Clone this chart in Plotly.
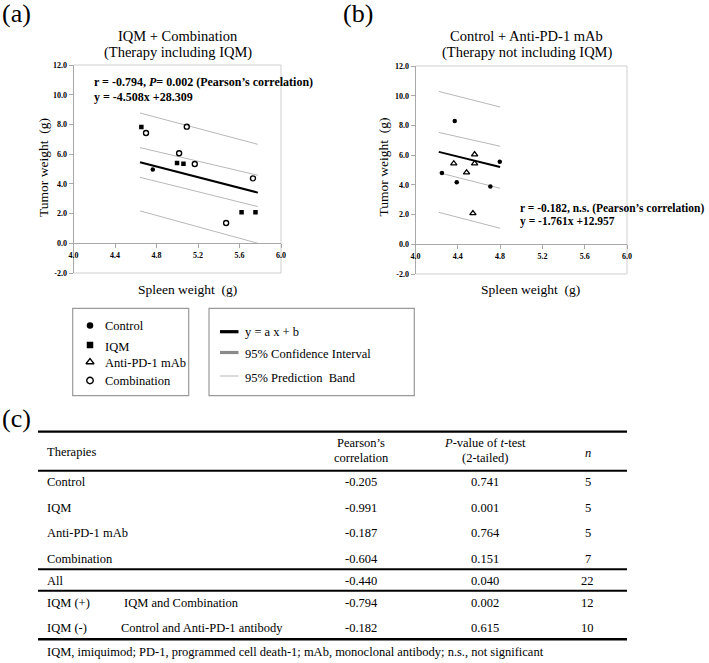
import plotly.graph_objects as go

W, H = 709, 663
SERIF = "Liberation Serif"

# ---------------- data: panel (a) IQM + Combination ----------------
iqm_x = [4.654, 4.998, 5.060, 5.620, 5.754]
iqm_y = [7.83, 5.41, 5.36, 2.09, 2.09]
comb_x = [4.699, 5.092, 5.018, 5.169, 5.730, 5.471]
comb_y = [7.42, 7.85, 6.06, 5.34, 4.37, 1.37]
comb_dot_x = [4.764]
comb_dot_y = [4.96]

fit_a_x = [4.641, 5.777]
fit_a_y = [5.45, 3.41]
ci_a_upper_y = [6.44, 4.58]
ci_a_lower_y = [4.44, 2.47]
pb_a_upper_y = [8.77, 6.66]
pb_a_lower_y = [2.18, 0.00]

# ---------------- data: panel (b) Control + Anti-PD-1 mAb ----------------
ctrl_x = [4.371, 4.250, 4.390, 4.797, 4.708]
ctrl_y = [8.29, 4.79, 4.18, 5.55, 3.89]
pd1_x = [4.362, 4.483, 4.559, 4.559, 4.543]
pd1_y = [5.44, 4.83, 6.05, 5.44, 2.09]

fit_b_x = [4.22, 4.80]
fit_b_y = [6.22, 5.20]
ci_b_upper_y = [7.53, 6.60]
ci_b_lower_y = [4.82, 3.77]
pb_b_upper_y = [10.29, 9.24]
pb_b_lower_y = [2.15, 1.08]

# ---------------- axis ticks ----------------
x_ticks = [4.0, 4.4, 4.8, 5.2, 5.6, 6.0]
y_ticks = [-2.0, 0.0, 2.0, 4.0, 6.0, 8.0, 10.0, 12.0]

# ---------------- table (c) ----------------
therapies = ["Control", "IQM", "Anti-PD-1 mAb", "Combination", "All", "IQM (+)", "IQM (-)"]
therapy_detail = ["", "", "", "", "", "IQM and Combination", "Control and Anti-PD-1 antibody"]
pearson = ["-0.205", "-0.991", "-0.187", "-0.604", "-0.440", "-0.794", "-0.182"]
p_values = ["0.741", "0.001", "0.764", "0.151", "0.040", "0.002", "0.615"]
n_values = ["5", "5", "5", "7", "22", "12", "10"]

legend_series = ["Control", "IQM", "Anti-PD-1 mAb", "Combination"]
legend_lines = ["y = a x + b", "95% Confidence Interval", "95% Prediction\u00a0 Band"]


def px(x):
    return x / W


def py(y):
    return 1 - y / H


BAND = dict(color="#b8b8b8", width=1)
FIT = dict(color="black", width=2)
AXIS_GRAY = "#a8a8a8"

M_FILLED_CIRCLE = dict(symbol="circle", size=4.5, color="black")
M_SQUARE = dict(symbol="square", size=4.5, color="black")
M_TRI = dict(symbol="triangle-up-open", size=5.5, color="black", line=dict(width=1.3, color="black"))
M_OPEN = dict(symbol="circle-open", size=5, color="black", line=dict(width=1.4, color="black"))

fig = go.Figure()


def add_lines(xs, ys_list, xa, ya):
    for ys, style in ys_list:
        fig.add_trace(go.Scatter(x=xs, y=ys, mode="lines", line=style, xaxis=xa, yaxis=ya,
                                 showlegend=False, hoverinfo="skip"))


add_lines(fit_a_x, [(pb_a_upper_y, BAND), (ci_a_upper_y, BAND), (ci_a_lower_y, BAND),
                    (pb_a_lower_y, BAND), (fit_a_y, FIT)], "x", "y")
add_lines(fit_b_x, [(pb_b_upper_y, BAND), (ci_b_upper_y, BAND), (ci_b_lower_y, BAND),
                    (pb_b_lower_y, BAND), (fit_b_y, FIT)], "x2", "y2")

fig.add_trace(go.Scatter(x=iqm_x, y=iqm_y, mode="markers", marker=M_SQUARE, name="IQM",
                         xaxis="x", yaxis="y", showlegend=False))
fig.add_trace(go.Scatter(x=comb_x, y=comb_y, mode="markers", marker=M_OPEN, name="Combination",
                         xaxis="x", yaxis="y", showlegend=False))
fig.add_trace(go.Scatter(x=comb_dot_x, y=comb_dot_y, mode="markers", marker=M_FILLED_CIRCLE,
                         name="Combination", xaxis="x", yaxis="y", showlegend=False))
fig.add_trace(go.Scatter(x=ctrl_x, y=ctrl_y, mode="markers", marker=M_FILLED_CIRCLE, name="Control",
                         xaxis="x2", yaxis="y2", showlegend=False))
fig.add_trace(go.Scatter(x=pd1_x, y=pd1_y, mode="markers", marker=M_TRI, name="Anti-PD-1 mAb",
                         xaxis="x2", yaxis="y2", showlegend=False))

# ---------------- legend keys (overlay pixel axis) ----------------
LEG1_KEY_X = 90
LEG1_ROWS = [325.5, 345.0, 362.0, 380.5]
leg_markers = [dict(M_FILLED_CIRCLE, size=6.5), dict(M_SQUARE, size=6.5),
               dict(M_TRI, size=7), dict(M_OPEN, size=6.5)]
for yy, mk in zip(LEG1_ROWS, leg_markers):
    fig.add_trace(go.Scatter(x=[LEG1_KEY_X], y=[yy], mode="markers", marker=mk,
                             xaxis="x3", yaxis="y3", showlegend=False, hoverinfo="skip"))

LEG2_KEY_X = [220, 238.5]
LEG2_ROWS = [331.7, 352.5, 376.0]
leg_line_styles = [dict(color="black", width=3.2), dict(color="#8a8a8a", width=3.2),
                   dict(color="#c4c4c4", width=1.2)]
for yy, st in zip(LEG2_ROWS, leg_line_styles):
    fig.add_trace(go.Scatter(x=LEG2_KEY_X, y=[yy, yy], mode="lines", line=st,
                             xaxis="x3", yaxis="y3", showlegend=False, hoverinfo="skip"))

# ---------------- axes ----------------
A_X = (73.5, 281.0)
A_Y = (65.0, 273.0)
B_X = (415.5, 627.0)
B_Y = (66.0, 274.0)


def xdom(p):
    return [px(p[0]), px(p[1])]


def ydom(p):
    return [py(p[1]), py(p[0])]


def zero_pos(p):
    d = ydom(p)
    return d[0] + (0 - (-2)) / 14 * (d[1] - d[0])


tickfont = dict(family=SERIF, size=8, color="black", weight="bold")
common_x = dict(range=[4, 6], tickvals=x_ticks, ticktext=[f"{v:.1f}" for v in x_ticks],
                showgrid=False, zeroline=False, showline=True, linecolor=AXIS_GRAY, linewidth=1,
                ticks="outside", ticklen=4, tickcolor=AXIS_GRAY, tickfont=tickfont, anchor="free",
                fixedrange=True, automargin=False)
common_y = dict(range=[-2, 12], tickvals=y_ticks, ticktext=[f"{v:.1f}" for v in y_ticks],
                showgrid=False, zeroline=False, showline=True, linecolor=AXIS_GRAY, linewidth=1,
                ticks="outside", ticklen=4, tickcolor=AXIS_GRAY, tickfont=tickfont, fixedrange=True,
                automargin=False)

fig.update_layout(
    template="none",
    width=W, height=H, margin=dict(l=0, r=0, t=0, b=0, pad=0, autoexpand=False),
    paper_bgcolor="white", plot_bgcolor="rgba(0,0,0,0)", showlegend=False,
    font=dict(family=SERIF, color="black"),
    xaxis=dict(common_x, domain=xdom(A_X), position=zero_pos(A_Y)),
    yaxis=dict(common_y, domain=ydom(A_Y), anchor="x"),
    xaxis2=dict(common_x, domain=xdom(B_X), position=zero_pos(B_Y)),
    yaxis2=dict(common_y, domain=ydom(B_Y), anchor="x2"),
    xaxis3=dict(domain=[0, 1], range=[0, W], visible=False, fixedrange=True, anchor="y3",
                automargin=False),
    yaxis3=dict(domain=[0, 1], range=[H, 0], visible=False, fixedrange=True, anchor="x3",
                automargin=False),
)

shapes = []
# plot area borders
for xr, yr in (("x domain", "y domain"), ("x2 domain", "y2 domain")):
    shapes.append(dict(type="rect", xref=xr, yref=yr, x0=0, x1=1, y0=0, y1=1,
                       line=dict(color="#cfcfcf", width=1), layer="below"))
# legend boxes
for (x0, x1) in ((72.7, 188.7), (209.0, 414.3)):
    shapes.append(dict(type="rect", xref="paper", yref="paper", x0=px(x0), x1=px(x1),
                       y0=py(395.7), y1=py(308.3), line=dict(color="#9a9a9a", width=1.2)))
# table rules
TABLE_X = (38.0, 627.0)
for yy, wdt in ((431.7, 2.2), (470.7, 2.0), (569.3, 2.0), (590.7, 2.0), (639.3, 2.4)):
    shapes.append(dict(type="line", xref="paper", yref="paper", x0=px(TABLE_X[0]), x1=px(TABLE_X[1]),
                       y0=py(yy), y1=py(yy), line=dict(color="black", width=wdt)))
fig.update_layout(shapes=shapes)

ann = []


def A(text, x, y, size, xanchor="left", angle=0):
    ann.append(dict(xref="paper", yref="paper", x=px(x), y=py(y), text=text, showarrow=False,
                    xanchor=xanchor, yanchor="middle", textangle=angle,
                    font=dict(family=SERIF, size=size, color="black")))


# panel labels
A("(a)", 0, 13, 26)
A("(b)", 341, 13, 26)
A("(c)", 0, 418, 26)

# titles
A("IQM + Combination", 178, 36, 14.5, "center")
A("(Therapy including IQM)", 178, 53, 14.5, "center")
A("Control + Anti-PD-1 mAb", 526, 36, 14.5, "center")
A("(Therapy not including IQM)", 527, 53, 14.5, "center")

# stats
A("<b>r = -0.794, <i>P</i>= 0.002 (Pearson\u2019s correlation)</b>", 92, 81.5, 12)
A("<b>y = -4.508x +28.309</b>", 92, 96.5, 12)
A("<b>r = -0.182, n.s. (Pearson\u2019s correlation)</b>", 517.5, 208, 11.5)
A("<b>y = -1.761x +12.957</b>", 517.5, 221.5, 11.5)

# axis titles
A("Tumor weight\u00a0 (g)", 43, 168, 13.5, "center", -90)
A("Tumor weight\u00a0 (g)", 383, 167.5, 13.5, "center", -90)
A("Spleen weight\u00a0 (g)", 188, 289, 13.5, "center")
A("Spleen weight\u00a0 (g)", 530, 289, 13.5, "center")

# legend texts
for txt, yy in zip(legend_series, [326, 346.7, 363.3, 381]):
    A(txt, 103, yy, 12.5)
for txt, yy in zip(legend_lines, [332.3, 354, 378.3]):
    A(txt, 243, yy, 12.5)

# table
TS = 12.5
A("Therapies", 45, 451.7, TS)
A("Pearson\u2019s", 361, 443.3, TS, "center")
A("correlation", 361, 458.3, TS, "center")
A("<i>P</i>-value of <i>t</i>-test", 485, 443.3, TS, "center")
A("(2-tailed)", 485, 458.3, TS, "center")
A("<i>n</i>", 587.5, 453.3, TS, "center")
row_y = [482.3, 507.7, 533.3, 559.3, 580.5, 602.7, 628.3]
detail_x = [0, 0, 0, 0, 0, 122, 119]
for i, yy in enumerate(row_y):
    A(therapies[i], 45, yy, TS)
    if therapy_detail[i]:
        A(therapy_detail[i], detail_x[i], yy, TS)
    A(pearson[i], 361, yy, TS, "center")
    A(p_values[i], 485, yy, TS, "center")
    A(n_values[i], 587.5, yy, TS, "center")
A("IQM, imiquimod; PD-1, programmed cell death-1; mAb, monoclonal antibody; n.s., not significant",
  45, 651.7, TS)

fig.update_layout(annotations=ann)
fig.write_html(
    "out.html",
    config={"displayModeBar": False, "staticPlot": True},
    post_script="document.body.style.margin='0';document.body.style.padding='0';"
                "document.body.style.overflow='hidden';",
)
